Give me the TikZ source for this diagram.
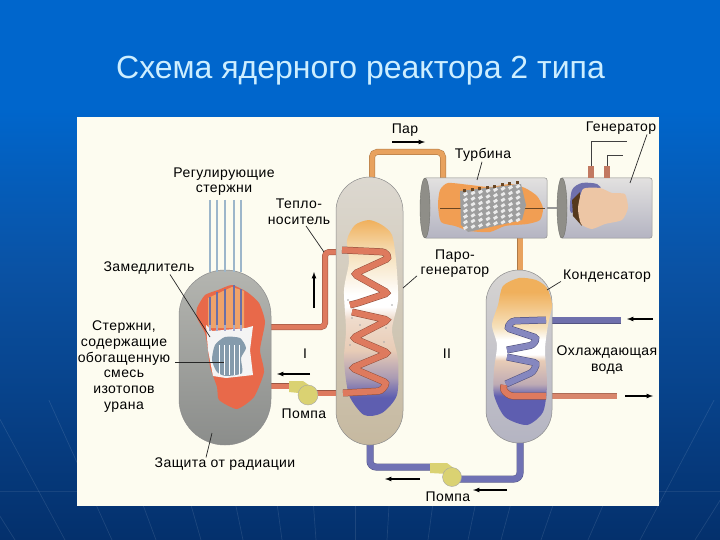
\documentclass[tikz,border=0pt]{standalone}
\usepackage{fontspec}
\usepackage{xcolor}
\setmainfont[LetterSpace=3]{Liberation Sans}
\newfontfamily\titlefont{Liberation Sans}
\usetikzlibrary{calc}

\definecolor{bgtop}{HTML}{0066CC}
\definecolor{bgmid}{HTML}{0A52A4}
\definecolor{bgbot}{HTML}{04306C}
\definecolor{panel}{HTML}{FDFCF0}
\definecolor{titletext}{HTML}{CDEEFF}
\definecolor{shieldtop}{HTML}{B4B5B0}
\definecolor{shieldbot}{HTML}{8B8D8B}
\definecolor{moderator}{HTML}{E8694A}
\definecolor{rodblue}{HTML}{9DB6CA}
\definecolor{rodpurple}{HTML}{6A70A8}
\definecolor{rodorange}{HTML}{EFA36A}
\definecolor{hotpipe}{HTML}{DE7A5E}
\definecolor{steampipe}{HTML}{E8A25E}
\definecolor{coldpipe}{HTML}{7072B4}
\definecolor{pumpyellow}{HTML}{DAD272}
\definecolor{coolred}{HTML}{D8866C}
\definecolor{coolblue}{HTML}{6F70AC}
\definecolor{hullgrey}{HTML}{D6D4D2}
\definecolor{hullbot}{HTML}{B4B4C2}
\definecolor{sgtop}{HTML}{DCD8D0}
\definecolor{sgbot}{HTML}{C6B9A0}
\definecolor{capgrey}{HTML}{8F8E88}
\definecolor{coreorange}{HTML}{F0B05C}
\definecolor{corecream}{HTML}{F6E2BE}
\definecolor{corepink}{HTML}{E8CCB6}
\definecolor{corepurple}{HTML}{5E5EB0}

\pgfdeclareverticalshading{bgshade}{100bp}{color(0bp)=(bgbot); color(25bp)=(bgbot); color(50bp)=(bgmid); color(65bp)=(bgtop); color(100bp)=(bgtop)}
\pgfdeclareverticalshading{sgcore}{100bp}{color(0bp)=(corepurple); color(25bp)=(corepurple); color(30bp)=(corepurple); color(35bp)=(corepink!55!corepurple); color(42bp)=(corepink); color(50bp)=(corepink!70!white); color(53bp)=(white); color(56bp)=(white); color(66bp)=(corecream); color(75bp)=(coreorange); color(100bp)=(coreorange)}
\pgfdeclareverticalshading{condcore}{100bp}{color(0bp)=(corepurple); color(25bp)=(corepurple); color(35bp)=(corepurple); color(39bp)=(corepink!70!corepurple); color(47bp)=(corepink); color(49bp)=(white); color(54bp)=(white); color(58bp)=(corecream); color(70bp)=(coreorange); color(100bp)=(coreorange)}

\tikzset{
    lbl/.style={font=\fontsize{14}{15.7}\selectfont, inner sep=0pt, align=center, text=black},
    leader/.style={draw=black!85, line width=.7pt},
    flow/.style={-latex, line width=1.2pt, black},
    vessel/.style={draw=black!45, line width=.5pt},
    hotline/.style={draw=hotpipe!70!black, double=hotpipe, double distance=5pt, line width=.5pt, rounded corners=4pt},
    steamline/.style={draw=steampipe!75!black, double=steampipe, double distance=5pt, line width=.5pt, rounded corners=5pt},
    coldline/.style={draw=coldpipe!75!black, double=coldpipe, double distance=6pt, line width=.5pt, rounded corners=6pt},
    coilhot/.style={draw=hotpipe!65!black, double=hotpipe, double distance=6pt, line width=.5pt, rounded corners=3pt},
    coilcold/.style={draw=coldpipe!65!black, double=coldpipe!85!white, double distance=6pt, line width=.5pt, rounded corners=3pt}
}

\begin{document}
\begin{tikzpicture}[x=1pt,y=-1pt]
    \useasboundingbox (0,0) rectangle (720,540);
    % Slide background with the fan of faint lines
    \shade[shading=bgshade] (0,0) rectangle (720,540);
    \foreach \off in {-415,-340,-290,-243,-199,-154,-112,-73,-39,0,32,73,113,146,186,233,285,340,410} {
        \draw[white, opacity=.1, line width=.7pt] ($(355,540)+(\off*1.26,-140)$) -- (355+\off,540);
    }
    \draw[white, opacity=.08, line width=.7pt] (0,491) -- (720,491);
    \node[font=\titlefont\fontsize{32}{34}\selectfont, text=titletext, anchor=base, inner sep=0pt] (title) at (360.5,79) {Схема ядерного реактора 2 типа};
    \fill[panel] (77,117) rectangle (659,506);

    % Pipes behind the vessels
    \draw[hotline] (268,327) -- (325,327) -- (325,252) -- (340,252);
    \draw[steamline] (372,180) -- (372,152) -- (443,152) -- (443,181);
    \draw[steamline, rounded corners=0pt] (520,236) -- (520,273);
    \draw[hotline, rounded corners=0pt] (268,386) -- (292,386);
    \draw[hotline, rounded corners=0pt] (312,393) -- (345,393);
    \draw[coldline] (370,442) -- (370,467) -- (436,467);
    \draw[coldline] (520,440) -- (520,479) -- (452,479);
    \draw[draw=coolblue!75!black, double=coolblue, double distance=6pt, line width=.5pt] (548,320) -- (621,320);
    \draw[draw=coolred!80!black, double=coolred, double distance=5pt, line width=.5pt] (548,396) -- (617,396);

    % Reactor with its shield
    \draw[vessel, top color=shieldtop, bottom color=shieldbot, rounded corners=46pt] (179,270) rectangle (271,445);
    \foreach \rodx in {210,217,225,234,241} {
        \draw[rodblue, line width=2.4pt] (\rodx,200) -- (\rodx,272);
    }
    \fill[moderator] plot[smooth cycle, tension=.35] coordinates {(232,285) (218,290) (205,295) (197,308) (197,318) (205,333) (208,350) (210,367) (217,387) (219,400) (237,409) (254,397) (264,372) (260,350) (265,322) (259,303) (247,292)};
    \fill[rodorange] (208,298) -- (232,287) -- (244,291) -- (244,328) -- (208,328) -- cycle;
    \foreach \rodx/\rodtop in {210/297,217/292,225/289,234/285,241/289} {
        \draw[rodpurple, line width=2.4pt] (\rodx,\rodtop) -- (\rodx,327);
    }
    \fill[white!90!shieldbot] (206,325) -- (212,331) -- (246,328) -- (253,326) -- (250,350) -- (253,375) -- (226,378) -- (213,376) -- (208,350) -- cycle;
    \foreach \rodx in {210,217,225,234,241} {
        \draw[rodpurple!60!white, line width=2.4pt] (\rodx,325) -- (\rodx,331);
    }
    \fill[rodblue!85!black] plot[smooth cycle, tension=.4] coordinates {(215,345) (225,337) (240,338) (246,348) (241,358) (242,373) (226,376) (217,372) (212,360)};
    \foreach \rodx in {219,224,229,234,239} {
        \draw[white, line width=.9pt] (\rodx,345) -- (\rodx,375);
    }

    % Steam generator
    \draw[vessel, top color=sgtop, bottom color=sgbot, rounded corners=34pt] (336,177) rectangle (403,445);
    \shade[shading=sgcore] plot[smooth cycle, tension=.45] coordinates {(369,220) (355,225) (347,240) (349,262) (344,290) (346,330) (344,360) (349,395) (364,415) (382,413) (397,395) (398,360) (392,330) (398,300) (396,260) (392,235) (382,225)};
    \foreach \dotx/\doty in {352/318,360/325,378/318,386/328,350/345,375/350,356/365,384/342,392/305,348/300,368/300,384/296} {
        \fill[black!35] (\dotx,\doty) circle (.8);
    }
    \draw[coilhot] (342,250) -- (385,252) -- (389,258) -- (354,274) -- (388,293) -- (358,303) -- (350,305);
    \draw[coilhot] (352,312) -- (388,320) -- (353,338) -- (388,353) -- (352,368) -- (387,383) -- (381,391) -- (343,393);

    % Condenser
    \draw[vessel, top color=hullgrey, bottom color=hullbot, rounded corners=33pt] (486,270) rectangle (552,443);
    \shade[shading=condcore] plot[smooth cycle, tension=.45] coordinates {(519,278) (503,286) (498,305) (492,325) (497,345) (494,370) (494,395) (505,417) (527,425) (543,412) (547,385) (545,350) (548,325) (552,305) (547,288) (536,280)};
    \draw[coilcold] (546,320) -- (512,321) -- (507,328) -- (537,338) -- (533,345) -- (507,350);
    \draw[coilcold] (507,357) -- (537,363) -- (533,372) -- (506,384);
    \draw[coilhot] (504,385) -- (503,390) -- (510,396) -- (546,396);

    % Turbine
    \draw[vessel, top color=hullgrey!70!white, bottom color=hullbot, rounded corners=2pt] (424,178) rectangle (547,238);
    \draw[draw=capgrey!80!black, line width=.4pt, fill=capgrey] (425,208) ellipse (5 and 30);
    \fill[coreorange!90!red] plot[smooth cycle, tension=.4] coordinates {(448,183) (470,185) (490,187) (510,184) (525,188) (537,196) (543,208) (540,220) (527,224) (505,226) (490,232) (470,231) (455,226) (441,222) (438,205) (440,190)};
    \draw[black!45!brown, line width=.8pt] (440,208) -- (545,208);
    \fill[black!38] (460,191) -- (521,184) -- (526,205) -- (522,220) -- (468,232) -- (461,225) -- cycle;
    \foreach \colx in {0,...,7} {
        \foreach \rowy in {0,...,6} {
            \fill[white!92!black] ({463+7.5*\colx},{194+5.6*\rowy-1.1*\colx}) -- ++(3.5,-2.2) -- ++(1.5,2.4) -- ++(-3.5,2.2) -- cycle;
        }
        \fill[black!45!brown] ({463+7.5*\colx},{189-1.1*\colx}) rectangle ++(3,3);
    }

    % Generator and the shaft to it
    \draw[black!40, line width=2.4pt] (547,208) -- (560,208);
    \draw[vessel, top color=hullgrey!70!white, bottom color=hullbot, rounded corners=2pt] (560,178) rectangle (652,238);
    \draw[draw=capgrey!80!black, line width=.4pt, fill=capgrey] (562,208) ellipse (5 and 30);
    \fill[coolblue] plot[smooth cycle, tension=.5] coordinates {(572,190) (582,183) (597,184) (600,190) (580,195) (574,212) (570,210)};
    \fill[black!55!brown] (572,200) -- (580,192) -- (582,226) -- (573,216) -- cycle;
    \fill[corecream!70!coolred] plot[smooth cycle, tension=.35] coordinates {(583,189) (600,188) (612,193) (625,194) (628,208) (622,220) (605,224) (592,229) (581,224) (578,208)};
    \foreach \termx in {591,607} {
        \fill[coolred!90!black] (\termx-3,166) rectangle (\termx+3,178);
    }
    \draw[black!75, line width=.8pt] (591,166) -- (591,141) -- (627,141);
    \draw[black!75, line width=.8pt] (607,166) -- (607,155) -- (623,155);

    % Pumps
    \fill[pumpyellow] (289,381) -- (303,381) -- (313,388) -- (299,393) -- (289,392) -- cycle;
    \draw[black!35, fill=pumpyellow] (308,395) circle (10);
    \fill[pumpyellow] (430,463) -- (447,463) -- (456,470) -- (448,474) -- (430,473) -- cycle;
    \draw[black!35, fill=pumpyellow] (452,477) circle (9.5);

    % Labels
    \node[lbl] (lblrods) at (224,181.5) {Регулирующие\\стержни};
    \node[lbl] (lblcoolant) at (299,212) {Тепло-\\носитель};
    \node[lbl] (lblmod) at (149,268) {Замедлитель};
    \node[lbl] (lblfuel) at (124,366.5) {Стержни,\\содержащие\\обогащенную\\смесь\\изотопов\\урана};
    \node[lbl] (lblshield) at (225,464) {Защита от радиации};
    \node[lbl] (lblsteam) at (405,130) {Пар};
    \node[lbl] (lblturb) at (483,155) {Турбина};
    \node[lbl] (lblgen) at (621,128) {Генератор};
    \node[lbl] (lblsg) at (455,263.5) {Паро-\\генератор};
    \node[lbl] (lblcond) at (607,276) {Конденсатор};
    \node[lbl] (lblwater) at (607,360) {Охлаждающая\\вода};
    \node[lbl] (lblpumpa) at (304,414) {Помпа};
    \node[lbl] (lblpumpb) at (448,497) {Помпа};
    \node[lbl] (lblone) at (305,354) {I};
    \node[lbl] (lbltwo) at (447,354) {II};

    % Leader lines to the parts
    \coordinate (ptcoolant) at (324,252);
    \coordinate (ptmod) at (210,337);
    \coordinate (ptfuel) at (224,362);
    \coordinate (ptshield) at (212,433);
    \coordinate (ptturb) at (477,180);
    \coordinate (ptgen) at (630,183);
    \coordinate (ptsg) at (403,288);
    \coordinate (ptcond) at (547,290);
    \draw[leader] ([xshift=7pt,yshift=-1pt]lblcoolant.south) -- (ptcoolant);
    \draw[leader] ([xshift=21pt]lblmod.south) -- (ptmod);
    \draw[leader] ([xshift=51pt,yshift=4.5pt]lblfuel.center) -- (ptfuel);
    \draw[leader] ([xshift=-19pt]lblshield.north) -- (ptshield);
    \draw[leader] ([xshift=-1pt]lblturb.south) -- (ptturb);
    \draw[leader] ([xshift=26pt]lblgen.south) -- (ptgen);
    \draw[leader] ([xshift=-38pt,yshift=2pt]lblsg.south) -- (ptsg);
    \draw[leader] ([xshift=-2pt,yshift=1pt]lblcond.south west) -- (ptcond);

    % Flow arrows
    \coordinate (upa) at (314,308);
    \coordinate (upb) at (314,272);
    \coordinate (retpa) at (310,374);
    \coordinate (retpb) at (277,374);
    \coordinate (stma) at (392,142);
    \coordinate (stmb) at (425,142);
    \coordinate (cwina) at (653,319);
    \coordinate (cwinb) at (627,319);
    \coordinate (cwouta) at (625,396);
    \coordinate (cwoutb) at (653,396);
    \coordinate (feeda) at (420,479);
    \coordinate (feedb) at (385,479);
    \coordinate (conda) at (507,490);
    \coordinate (condb) at (473,490);
    \foreach \arra/\arrb in {upa/upb,retpa/retpb,stma/stmb,cwina/cwinb,cwouta/cwoutb,feeda/feedb,conda/condb} {
        \draw[flow] (\arra) -- (\arrb);
    }
\end{tikzpicture}
\end{document}
